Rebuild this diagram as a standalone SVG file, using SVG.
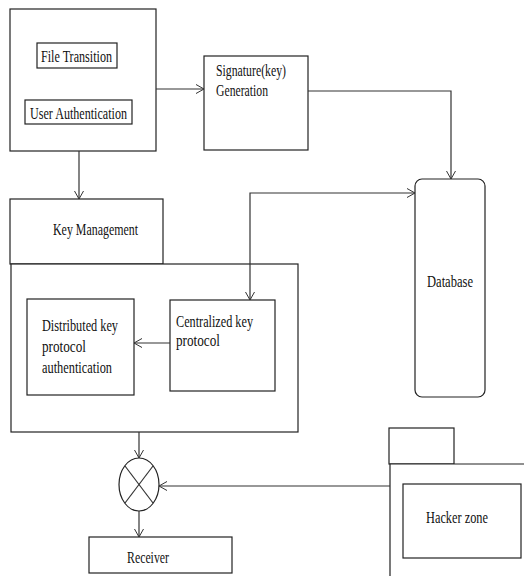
<svg xmlns="http://www.w3.org/2000/svg" width="524" height="576" viewBox="0 0 524 576">
<style>
  .box { fill: #fff; stroke: #222; stroke-width: 1.2; }
  .t { font-family: "Liberation Serif", "Times New Roman", serif; font-size: 17px; fill: #111; }
  .c { fill: none; stroke: #333; stroke-width: 1.2; }
</style>
<defs>
  <marker id="arr" markerWidth="10" markerHeight="10" refX="8" refY="5" orient="auto-start-reverse" markerUnits="userSpaceOnUse">
    <path d="M0,0.5 L8,5 L0,9.5" fill="none" stroke="#333" stroke-width="1"/>
  </marker>
</defs>
<rect width="524" height="576" fill="#fff"/>

<g id="user-module">
  <rect class="box" x="10" y="9" width="146" height="142"/>
  <g id="file-transition">
    <rect class="box" x="37" y="43" width="80" height="25"/>
    <text class="t" x="41" y="62" textLength="71" lengthAdjust="spacingAndGlyphs">File Transition</text>
  </g>
  <g id="user-authentication">
    <rect class="box" x="25" y="100" width="107" height="24"/>
    <text class="t" x="30" y="119" textLength="97" lengthAdjust="spacingAndGlyphs">User Authentication</text>
  </g>
</g>

<g id="signature-generation">
  <rect class="box" x="204" y="56" width="104" height="94"/>
  <text class="t" x="216" y="76" textLength="70" lengthAdjust="spacingAndGlyphs">Signature(key)</text>
  <text class="t" x="216" y="96" textLength="52" lengthAdjust="spacingAndGlyphs">Generation</text>
</g>

<g id="database">
  <rect class="box" x="415" y="179" width="70" height="218" rx="7" ry="7"/>
  <text class="t" x="427" y="287" textLength="46" lengthAdjust="spacingAndGlyphs">Database</text>
</g>

<g id="key-management">
  <rect class="box" x="10" y="199" width="153" height="65"/>
  <text class="t" x="53" y="235" textLength="85" lengthAdjust="spacingAndGlyphs">Key Management</text>
  <rect class="box" x="11" y="264" width="287" height="168"/>
  <g id="distributed-key">
    <rect class="box" x="27" y="299" width="107" height="96"/>
    <text class="t" x="42" y="331" textLength="76" lengthAdjust="spacingAndGlyphs">Distributed key</text>
    <text class="t" x="42" y="352" textLength="44" lengthAdjust="spacingAndGlyphs">protocol</text>
    <text class="t" x="42" y="373" textLength="70" lengthAdjust="spacingAndGlyphs">authentication</text>
  </g>
  <g id="centralized-key">
    <rect class="box" x="170" y="300" width="105" height="91"/>
    <text class="t" x="176" y="327" textLength="77" lengthAdjust="spacingAndGlyphs">Centralized key</text>
    <text class="t" x="176" y="346" textLength="44" lengthAdjust="spacingAndGlyphs">protocol</text>
  </g>
</g>

<g id="junction">
  <ellipse class="box" cx="139" cy="484.5" rx="20" ry="26.5"/>
  <line class="c" x1="125" y1="466" x2="153" y2="503"/>
  <line class="c" x1="153" y1="466" x2="125" y2="503"/>
</g>

<g id="receiver">
  <rect class="box" x="89" y="537" width="143" height="36"/>
  <text class="t" x="127" y="563" textLength="42" lengthAdjust="spacingAndGlyphs">Receiver</text>
</g>

<g id="hacker-package">
  <rect class="box" x="389" y="428" width="65" height="36"/>
  <path class="box" d="M524,464 L390,464 L390,578" fill="none"/>
  <g id="hacker-zone">
    <rect class="box" x="403" y="484" width="118" height="74"/>
    <text class="t" x="426" y="523" textLength="62" lengthAdjust="spacingAndGlyphs">Hacker zone</text>
  </g>
</g>

<g id="connectors">
  <path class="c" d="M156,89 L204,89" marker-end="url(#arr)"/>
  <path class="c" d="M308,91 L451,91 L451,179" marker-end="url(#arr)"/>
  <path class="c" d="M79,151 L79,199" marker-end="url(#arr)"/>
  <path class="c" d="M250,300 L250,193 L415,193" marker-start="url(#arr)" marker-end="url(#arr)"/>
  <path class="c" d="M170,343 L134,343" marker-end="url(#arr)"/>
  <path class="c" d="M139,432 L139,458" marker-end="url(#arr)"/>
  <path class="c" d="M390,486 L159,486" marker-end="url(#arr)"/>
  <path class="c" d="M139,511 L139,537" marker-end="url(#arr)"/>
</g>
</svg>
